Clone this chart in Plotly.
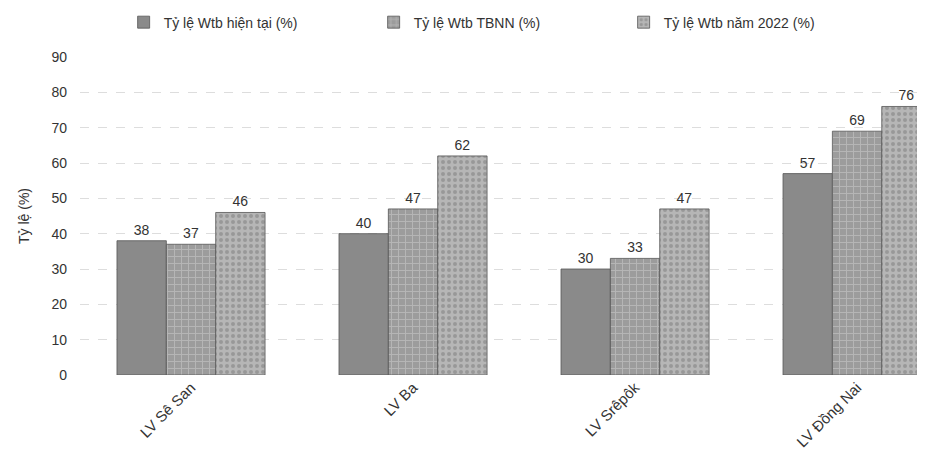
import plotly.graph_objects as go

categories = ["LV Sê San", "LV Ba", "LV Srêpôk", "LV Đồng Nai"]
series_names = ["Tỷ lệ Wtb hiện tại (%)", "Tỷ lệ Wtb TBNN (%)", "Tỷ lệ Wtb năm 2022 (%)"]
current = [38, 40, 30, 57]
average = [37, 47, 33, 69]
year2022 = [46, 62, 47, 76]
y_ticks = [0, 10, 20, 30, 40, 50, 60, 70, 80, 90]

styles = [
    dict(color="#8a8a8a", pattern=dict(shape="")),
    dict(color="#9c9c9c", pattern=dict(shape="+", fgcolor="#d0d0d0", size=7, solidity=0.25)),
    dict(color="#b6b6b6", pattern=dict(shape=".", fgcolor="#7a7a7a", size=6, solidity=0.35)),
]

fig = go.Figure()
for name, vals, st in zip(series_names, [current, average, year2022], styles):
    fig.add_trace(go.Bar(
        x=categories, y=vals, name=name,
        text=[str(v) for v in vals], textposition="outside",
        textfont=dict(size=14, color="#333333"),
        cliponaxis=True,
        marker=dict(color=st["color"], pattern=st["pattern"],
                    line=dict(color="#555555", width=0.8)),
    ))

fig.update_layout(
    width=925, height=455,
    margin=dict(l=72, r=0, t=49, b=88, autoexpand=False),
    paper_bgcolor="white", plot_bgcolor="white",
    font=dict(family="Liberation Sans, Arial, sans-serif", size=13, color="#333333"),
    barmode="group", bargap=0.333, bargroupgap=0,
    legend=dict(orientation="h", xref="container", yref="container",
                x=0.125, y=0.968, xanchor="left", yanchor="middle",
                font=dict(size=14, color="#333333"), itemwidth=30,
                entrywidth=205, entrywidthmode="pixels"),
    showlegend=True,
)
fig.update_xaxes(range=[-0.5, 3.342], tickangle=-45, showgrid=False, showline=False,
                 ticks="", tickfont=dict(size=15))
fig.update_yaxes(range=[0, 90], tickvals=y_ticks, showline=False, zeroline=False,
                 gridcolor="#dddddd", griddash="dash", gridwidth=1,
                 title=dict(text="Tỷ lệ (%)", standoff=18, font=dict(size=14)),
                 tickfont=dict(size=14), ticklabelstandoff=12)

fig.write_html("out.html")
